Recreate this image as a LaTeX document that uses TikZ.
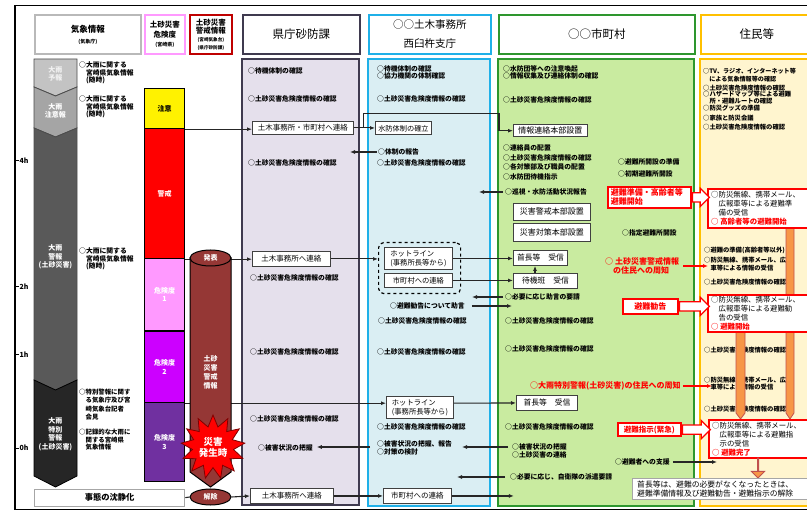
\documentclass[tikz,border=0pt]{standalone}
\usepackage{fontspec}
\setmainfont{Noto Sans CJK JP}
\usetikzlibrary{shapes.geometric,shapes.arrows,arrows.meta,calc}
\definecolor{kenfill}{HTML}{E5E0EC}
\definecolor{kenline}{HTML}{3F3A4F}
\definecolor{dobfill}{HTML}{DAEEF3}
\definecolor{dobline}{HTML}{1FB0E8}
\definecolor{shifill}{HTML}{C9EBA0}
\definecolor{shiline}{HTML}{2E962E}
\definecolor{jufill}{HTML}{FFF5CF}
\definecolor{juline}{HTML}{FFC000}
\definecolor{kpink}{HTML}{FF99FF}
\definecolor{kmag}{HTML}{CC00FF}
\definecolor{kpur}{HTML}{7030A0}
\definecolor{cylred}{HTML}{953735}
\definecolor{orbar}{HTML}{F79646}
\definecolor{orline}{HTML}{C0504D}
\definecolor{lnk}{HTML}{262626}
\definecolor{segA}{HTML}{C3C3C3}
\definecolor{segB}{HTML}{A5A5A5}
\definecolor{segC}{HTML}{595959}
\definecolor{segD}{HTML}{262626}
\begin{document}
\begin{tikzpicture}[x=1pt,y=-1pt,
  sm/.style={font=\fontsize{6.8}{7.6}\selectfont\bfseries, anchor=west, inner sep=0pt, align=left},
  smj/.style={sm, font=\fontsize{6.3}{7.4}\selectfont\bfseries},
  smr/.style={anchor=west, inner sep=0pt, align=left, text=red, font=\fontsize{8}{9}\selectfont\bfseries},
  lbox/.style={draw=black!75, fill=white, line width=0.9pt, inner sep=0pt, font=\fontsize{7.5}{8.5}\selectfont, anchor=north west},
  hdr/.style={fill=white, line width=1.8pt, inner sep=0pt, anchor=north west, align=center, minimum height=39pt},
  kcol/.style={draw=black, line width=1.2pt, inner sep=0pt, anchor=north west, minimum width=40pt, align=center, font=\fontsize{7}{8.5}\selectfont\bfseries, text=white},
  colt/.style={inner sep=0pt, align=center, font=\fontsize{7}{8.5}\selectfont\bfseries, text=white},
  lk/.style={draw=lnk, line width=1.1pt},
  ar/.style={lk, -{Latex[length=5pt,width=4pt]}},
  rar/.style={draw=red, line width=1.2pt, -{Latex[length=5pt,width=4pt]}},
  redbox/.style={draw=red, line width=1.8pt, fill=white, inner sep=0pt, anchor=north west},
  rbt/.style={anchor=west, inner sep=0pt, align=left, font=\fontsize{7.4}{9}\selectfont},
  fat/.style={single arrow, draw=red, fill=white, line width=1.2pt, inner xsep=0pt, inner ysep=4pt, single arrow head extend=4.5pt, anchor=tail},
  obar/.style={fill=orbar, draw=orline, line width=0.8pt},
  tlab/.style={anchor=west, inner sep=0pt, font=\fontsize{7}{8}\selectfont\bfseries},
]
\useasboundingbox (0,0) rectangle (807,513);
\fill[white] (0,0) rectangle (807,513);
\clip (0,0) rectangle (807,513);

% outer frame
\draw[line width=1.6pt] (815,5.5) -- (15,5.5) -- (15,509.5) -- (815,509.5);

% time ticks
\foreach \yy/\lab in {161/4h,287/2h,355/1h,448/0h}{
  \draw[line width=1pt] (15,\yy) -- (18.5,\yy);
  \node[tlab] (t\lab) at (19.5,\yy) {\lab};
}

% headers
\node[hdr, draw=gray!55, minimum width=106pt, font=\fontsize{8.5}{11}\selectfont\bfseries] (hK) at (34,14) {気象情報\\{\fontsize{5}{6}\selectfont (気象庁)}};
\node[hdr, draw=kpink, minimum width=40pt, font=\fontsize{7.5}{9.5}\selectfont\bfseries] (hD) at (144,14) {土砂災害\\危険度\\{\fontsize{5}{6}\selectfont (宮崎県)}};
\node[hdr, draw=red!75!black, minimum width=42pt, font=\fontsize{7.5}{8}\selectfont\bfseries] (hW) at (189,14) {土砂災害\\警戒情報\\{\fontsize{4.6}{5}\selectfont (宮崎気象台)}\\{\fontsize{4.6}{5}\selectfont (県庁砂防課)}};
\node[hdr, draw=kenline, minimum width=117pt, font=\fontsize{11.5}{13}\selectfont] (hKen) at (242,14) {県庁砂防課};
\node[hdr, draw=dobline, minimum width=122pt, font=\fontsize{10.5}{19}\selectfont] (hDob) at (368,14) {○○土木事務所\\西臼杵支庁};
\node[hdr, draw=shiline, minimum width=196pt, font=\fontsize{11.5}{13}\selectfont] (hShi) at (498,14) {○○市町村};
\node[hdr, draw=juline, minimum width=112pt, font=\fontsize{11.5}{13}\selectfont] (hJu) at (700,14) {住民等};

% panels
\draw[fill=kenfill, draw=kenline, line width=1.8pt] (242,59) rectangle (359,505);
\draw[fill=dobfill, draw=dobline, line width=1.8pt] (368,59) rectangle (490,506);
\draw[fill=shifill, draw=shiline, line width=1.8pt] (498,59) rectangle (694,506);
\draw[fill=jufill, draw=juline, line width=1.8pt] (700,59) rectangle (815,506);

% weather arrow column
\draw[fill=segA, draw=black!70, line width=0.8pt] (34,59) -- (77,59) -- (77,87) -- (55.5,96) -- (34,87) -- cycle;
\draw[fill=segB, draw=black!70, line width=0.8pt] (34,87) -- (55.5,96) -- (77,87) -- (77,128) -- (55.5,137) -- (34,128) -- cycle;
\draw[fill=segC, draw=black!70, line width=0.8pt] (34,128) -- (55.5,137) -- (77,128) -- (77,380) -- (55.5,390) -- (34,380) -- cycle;
\draw[fill=segD, draw=black, line width=0.8pt] (34,380) -- (55.5,390) -- (77,380) -- (77,476) -- (55.5,487) -- (34,476) -- cycle;
\node[colt, text=white!95!black] (s1) at (55.5,74) {大雨\\予報};
\node[colt] (s2) at (55.5,111) {大雨\\注意報};
\node[colt] (s3) at (55.5,257) {大雨\\警報\\(土砂災害)};
\node[colt] (s4) at (55.5,434) {大雨\\特別\\警報\\(土砂災害)};

% weather texts
\node[sm] (w1) at (79,73) {○大雨に関する\\　宮崎県気象情報\\　(随時)};
\node[sm] (w2) at (79,107) {○大雨に関する\\　宮崎県気象情報\\　(随時)};
\node[sm] (w3) at (79,259) {○大雨に関する\\　宮崎県気象情報\\　(随時)};
\node[sm, font=\fontsize{6.4}{8.3}\selectfont\bfseries] (w4) at (79,404.5) {○特別警報に関す\\　る気象庁及び宮\\　崎気象台記者\\　会見};
\node[sm, font=\fontsize{6.4}{7.6}\selectfont\bfseries] (w5) at (79,440) {○記録的な大雨に\\　関する宮崎県\\　気象情報};

% danger level column
\node[kcol, fill=yellow, minimum height=40pt, text=black] (kChui) at (144,88) {注意};
\node[kcol, fill=red, minimum height=130pt] (kKei) at (144,128) {警戒};
\node[kcol, fill=kpink, minimum height=72pt] (kD1) at (144,258) {危険度\\1};
\node[kcol, fill=kmag, minimum height=71pt] (kD2) at (144,331) {危険度\\2};
\node[kcol, fill=kpur, minimum height=79pt] (kD3) at (144,402) {危険度\\3};

% boxes
\node[lbox, minimum width=101pt, minimum height=13pt] (bRen1) at (252,121) {土木事務所・市町村へ連絡};
\node[lbox, minimum width=56pt, minimum height=13pt, font=\fontsize{7.2}{8}\selectfont] (bSui) at (375,121.5) {水防体制の確立};
\node[lbox, minimum width=74pt, minimum height=12.5pt, font=\fontsize{8}{9}\selectfont] (bJoho) at (513,124) {情報連絡本部設置};
\node[lbox, minimum width=77pt, minimum height=17pt, font=\fontsize{8}{9}\selectfont] (bSai1) at (513,203) {災害警戒本部設置};
\node[lbox, minimum width=77pt, minimum height=18pt, font=\fontsize{8}{9}\selectfont] (bSai2) at (513,223) {災害対策本部設置};
\node[lbox, minimum width=78pt, minimum height=15pt] (bRen2) at (252,251) {土木事務所へ連絡};
\node[draw=black, dashed, rounded corners=5pt, line width=1.2pt, minimum width=82pt, minimum height=51pt, anchor=north west, inner sep=0pt] (hlGroup) at (378,242) {};
\node[lbox, minimum width=68pt, minimum height=22pt, align=left, font=\fontsize{7.3}{9}\selectfont] (bHot1) at (384,247) {ホットライン\\(事務所長等から)};
\node[lbox, minimum width=68pt, minimum height=14pt, font=\fontsize{7.3}{9}\selectfont] (bRen3) at (384,273) {市町村への連絡};
\node[lbox, minimum width=54pt, minimum height=15pt, font=\fontsize{7.8}{9}\selectfont] (bShu1) at (513,250) {首長等　受信};
\node[lbox, minimum width=64pt, minimum height=15pt, font=\fontsize{7.8}{9}\selectfont] (bTaiki) at (513,273) {待機班　受信};
\node[lbox, minimum width=67pt, minimum height=22pt, align=left, font=\fontsize{7.3}{9}\selectfont] (bHot2) at (386,396) {ホットライン\\(事務所長等から)};
\node[lbox, minimum width=61pt, minimum height=15pt, font=\fontsize{7.8}{9}\selectfont] (bShu2) at (516,395) {首長等　受信};
\node[lbox, minimum width=83pt, minimum height=15pt] (bRen4) at (250,488) {土木事務所へ連絡};
\node[lbox, minimum width=68pt, minimum height=15pt] (bRen5) at (383,488) {市町村への連絡};

% panel texts: prefecture
\node[sm] (k1) at (248,71) {○待機体制の確認};
\node[sm] (k2) at (248,99) {○土砂災害危険度情報の確認};
\node[sm] (k3) at (248,163) {○土砂災害危険度情報の確認};
\node[sm] (k4) at (250,278) {○土砂災害危険度情報の確認};
\node[sm] (k5) at (250,352) {○土砂災害危険度情報の確認};
\node[sm] (k6) at (250,419) {○土砂災害危険度情報の確認};
\node[sm] (tHigai1) at (258,448) {○被害状況の把握};

% panel texts: public works office
\node[sm] (d1) at (377,72.5) {○待機体制の確認\\○協力機関の体制確認};
\node[sm] (d2) at (377,99) {○土砂災害危険度情報の確認};
\node[sm] (tTaisei) at (378,152) {○体制の報告};
\node[sm] (d3) at (377,163) {○土砂災害危険度情報の確認};
\node[sm] (tKankoku) at (390,306) {○避難勧告について助言};
\node[sm] (d4) at (378,321) {○土砂災害危険度情報の確認};
\node[sm] (d5) at (377,352) {○土砂災害危険度情報の確認};
\node[sm] (d6) at (377,427) {○土砂災害危険度情報の確認};
\node[sm] (tHigai2) at (377,448) {○被害状況の把握、報告\\○対策の検討};

% panel texts: municipality
\node[sm] (m1) at (503,72.5) {○水防団等への注意喚起\\○情報収集及び連絡体制の確認};
\node[sm] (m2) at (503,100) {○土砂災害危険度情報の確認};
\node[sm, font=\fontsize{6.8}{9.7}\selectfont\bfseries] (m3) at (503,162.5) {○連絡員の配置\\○土砂災害危険度情報の確認\\○各対策部及び職員の配置\\○水防団待機指示};
\node[sm] (m4) at (618,162) {○避難所開設の準備};
\node[sm] (m5) at (618,174) {○初期避難所開設};
\node[sm] (tJunshi) at (505,192) {○巡視・水防活動状況報告};
\node[sm] (m6) at (622,233) {○指定避難所開設};
\node[sm] (tJogen) at (505,297) {○必要に応じ助言の要請};
\node[sm] (m7) at (505,321) {○土砂災害危険度情報の確認};
\node[sm] (m8) at (505,349) {○土砂災害危険度情報の確認};
\node[sm] (m9) at (505,427) {○土砂災害危険度情報の確認};
\node[sm] (tHigai3) at (512,451) {○被害状況の把握\\○土砂災害の連絡};
\node[sm] (tShien) at (615,462) {○避難者への支援};
\node[sm] (tJieitai) at (510,477) {○必要に応じ、自衛隊の派遣要請};

% panel texts: residents
\node[smj, font=\fontsize{6.1}{8}\selectfont\bfseries] (j1) at (703,75) {○TV、ラジオ、インターネット等\\　による気象情報等の確認};
\node[smj] (j2) at (703,88) {○土砂災害危険度情報の確認};
\node[smj, font=\fontsize{6.3}{6.9}\selectfont\bfseries] (j3) at (703,97.5) {○ハザードマップ等による避難\\　所・避難ルートの確認};
\node[smj] (j4) at (703,108) {○防災グッズの準備};
\node[smj] (j5) at (703,118) {○家族と防災会議};
\node[smj] (j6) at (703,127) {○土砂災害危険度情報の確認};
\node[smj] (j7) at (704,250) {○避難の準備(高齢者等以外)};
\node[smj] (j8) at (704,264) {○防災無線、携帯メール、広報\\　車等による情報の受信};
\node[smj] (j9) at (704,282) {○土砂災害危険度情報の確認};
\node[smj] (j10) at (704,350) {○土砂災害危険度情報の確認};
\node[smj] (j11) at (704,383.5) {○防災無線、携帯メール、広報\\　車等による情報の受信};
\node[smj] (j12) at (704,409) {○土砂災害危険度情報の確認};

% connectors
\draw[ar] (kChui.south east) -- (kChui.south east -| bRen1.west);
\draw[ar] (bRen1.east) -- (bRen1.east -| bSui.west);
\coordinate (cBr) at ($(bRen1.east)+(10,0)$);
\draw[ar] (cBr) -- ++(0,-14.5) -| ($(bJoho.west)+(-14,0)$) -- (bJoho.west);
\draw[ar] ($(tTaisei.west)+(-1,0)$) -- ++(-27,0);
\draw[ar] ($(tJunshi.west)+(-2,0)$) -- ++(-24,0);
\draw[ar] (kKei.south east) -- (kKei.south east -| bRen2.west);
\draw[ar] (bRen2.east) -- (bRen2.east -| hlGroup.west);
\draw[ar] (bHot1.east) -- (bHot1.east -| bShu1.west);
\draw[ar] (bRen3.east) -- (bRen3.east -| bTaiki.west);
\draw[ar] ($(bTaiki.north west)+(22,0)$) -- ($(bShu1.south west)+(22,0)$);
\draw[ar] ($(tJogen.west)+(-2,0)$) -- ++(-31,0);
\draw[ar] ($(tKankoku.east)+(7,0)$) -- (512,306);
\draw[ar] (kD2.south east) -- (kD2.south east -| bHot2.west);
\draw[ar] (bHot2.east |- kD2.south east) -- (bShu2.west);
\draw[ar] ($(tHigai2.west)+(-7,-1)$) -- ($(tHigai1.east)+(4,-1)$);
\draw[ar] ($(tHigai3.west)+(-4,-4)$) -- ++(-46,0);
\draw[ar] ($(tJieitai.west)+(-5,0)$) -- ++(-48,0);

% warning cylinder
\draw[fill=cylred, draw=black, line width=1pt] (190,258) -- (190,472) -- (210.5,487) -- (231,472) -- (231,258) -- cycle;
\node[ellipse, draw=black, line width=1pt, fill=cylred, minimum width=41pt, minimum height=16pt, inner sep=0pt, text=white, font=\fontsize{7}{8}\selectfont\bfseries] (cHappyo) at (210.5,258) {発表};
\node[colt, font=\fontsize{7}{9}\selectfont\bfseries] (cTxt) at (210.5,372) {土砂\\災害\\警戒\\情報};

% bottom row
\node[draw=gray!70, line width=1.3pt, fill=white, minimum width=150pt, minimum height=17pt, anchor=north west, inner sep=0pt, font=\fontsize{8.3}{9}\selectfont\bfseries] (jitai) at (34,488.5) {事態の沈静化};
\node[ellipse, draw=black, line width=1pt, fill=cylred, minimum width=41pt, minimum height=16pt, inner sep=0pt, text=white, font=\fontsize{7}{8}\selectfont\bfseries] (cKaijo) at (210.5,497) {解除};
\draw[lk] (jitai.east) -- (cKaijo.west);
\draw[ar] (cKaijo.east) -- (bRen4.west);
\draw[ar] (bRen4.east) -- (bRen5.west);
\draw[ar] (bRen5.east) -- ++(62,0);

% disaster burst
\node[star, star points=13, star point ratio=1.55, minimum size=64pt, fill=red, draw=red!50!black, line width=0.8pt, inner sep=0pt] (burst) at (213,447) {};
\node[colt, font=\fontsize{9.5}{11}\selectfont\bfseries] (burstT) at (213,447) {災害\\発生時};

% municipality red boxes and notices
\node[redbox, text width=77pt, inner xsep=3pt, inner ysep=1.5pt, align=left, minimum height=21pt, font=\fontsize{8}{9}\selectfont\bfseries, text=red] (rM1) at (607,186) {避難準備・高齢者等\\避難開始};
\node[redbox, minimum width=55pt, minimum height=15pt, font=\fontsize{8}{9}\selectfont\bfseries, text=red] (rM2) at (622,298) {避難勧告};
\node[redbox, minimum width=63pt, minimum height=13.5pt, font=\fontsize{7.5}{9}\selectfont\bfseries, text=red] (rM3) at (617,422) {避難指示(緊急)};
\node[smr] (tShuchi1) at (605,266) {○ 土砂災害警戒情報\\　の住民への周知};
\draw[rar] ($(tShuchi1.east)+(4,0)$) -- (708,266);
\node[smr] (tShuchi2) at (530,386) {○大雨特別警報(土砂災害)の住民への周知};
\draw[rar] ($(tShuchi2.east)+(2,0)$) -- (712,386);
\draw[ar] ($(tShien.east)+(3,0)$) -- (717,462);

% orange bars (residents)
\draw[obar] (786,226) -- (794,226) -- (794,413) -- (790,419) -- (786,413) -- cycle;
\draw[obar] (736,330) -- (745,330) -- (745,413) -- (740.5,419) -- (736,413) -- cycle;

% residents red boxes
\node[redbox, minimum width=110pt, minimum height=39pt] (rJ1) at (707,188) {};
\node[rbt] (rJ1t) at ($(rJ1.west)+(4,0)$) {○防災無線、携帯メール、\\　広報車等による避難準\\　備の受信\\{\color{red}\bfseries ○ 高齢者等の避難開始}};
\node[redbox, minimum width=110pt, minimum height=37pt] (rJ2) at (707,294) {};
\node[rbt] (rJ2t) at ($(rJ2.west)+(4,0)$) {○防災無線、携帯メール、\\　広報車等による避難勧\\　告の受信\\{\color{red}\bfseries ○ 避難開始}};
\node[redbox, minimum width=110pt, minimum height=38pt] (rJ3) at (708,419) {};
\node[rbt] (rJ3t) at ($(rJ3.west)+(4,0)$) {○防災無線、携帯メール、\\　広報車等による避難指\\　示の受信\\{\color{red}\bfseries ○ 避難完了}};

% fat arrows
\node[fat, minimum height=17pt] (fa1) at (rM1.east) {};
\node[fat, minimum height=30pt] (fa2) at (rM2.east) {};
\node[fat, minimum height=28pt] (fa3) at (rM3.east) {};

% orange down arrow and final box
\node[single arrow, shape border rotate=270, fill=orbar, draw=orline, line width=1pt, minimum height=20pt, inner xsep=0pt, inner ysep=5pt, single arrow head extend=6pt, anchor=tail] (oDown) at (758,457.5) {};
\node[draw=gray!70, line width=1.2pt, fill=white, minimum width=180pt, minimum height=21pt, anchor=north west, inner sep=0pt] (bKaijo) at (632,478) {};
\node[sm, font=\fontsize{7.8}{8.6}\selectfont] (bKaijoT) at ($(bKaijo.west)+(5,0)$) {首長等は、避難の必要がなくなったときは、\\避難準備情報及び避難勧告・避難指示の解除};
\end{tikzpicture}
\end{document}
